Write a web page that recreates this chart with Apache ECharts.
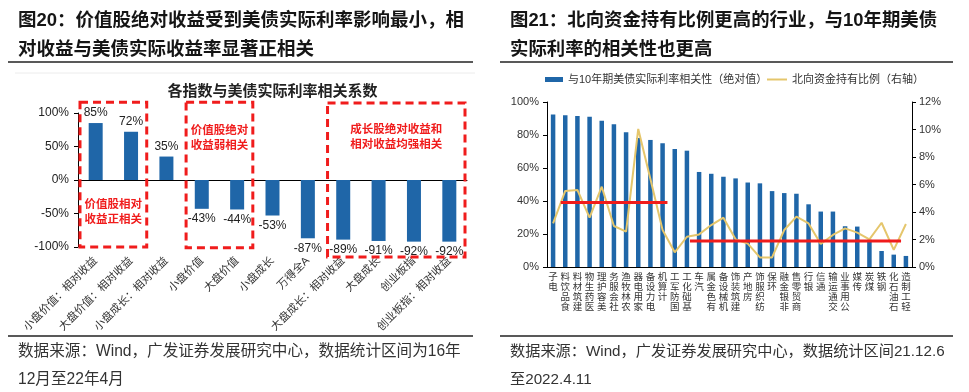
<!DOCTYPE html>
<html><head><meta charset="utf-8">
<script src="https://cdn.jsdelivr.net/npm/echarts@6/dist/echarts.min.js"></script>
<style>html,body{margin:0;padding:0;background:#fff}#c{width:969px;height:392px}</style>
</head><body><div id="c"></div>
<script>
const FONT = '"Liberation Sans", "Noto Sans CJK SC", sans-serif';

// ---- left chart data ----
const leftTitle = '图20：价值股绝对收益受到美债实际利率影响最小，相\n对收益与美债实际收益率显著正相关';
const leftInnerTitle = '各指数与美债实际利率相关系数';
const leftCats = ['小盘价值：相对收益','大盘价值：相对收益','小盘成长：相对收益','小盘价值','大盘价值','小盘成长','万得全A','大盘成长：相对收益','大盘成长','创业板指','创业板指：相对收益'];
const leftValues = [85, 72, 35, -43, -44, -53, -87, -89, -91, -92, -92];
const leftAxisMin = -100, leftAxisMax = 100, leftAxisStep = 50;
const leftSource = '数据来源：Wind，广发证券发展研究中心，数据统计区间为16年\n12月至22年4月';
// annotation boxes (category span, value span, text, text anchor value)
const boxFrom = [0, 3, 7];
const boxTo = [1, 4, 10];
const boxTop = [116, 116, 115];
const boxBottom = [-100, -101, -115];
const boxText = ['价值股相对\n收益正相关', '价值股绝对\n收益弱相关', '成长股绝对收益和\n相对收益均强相关'];
const boxTextValue = [-48.5, 61.5, 63.4];

// ---- right chart data ----
const rightTitle = '图21：北向资金持有比例更高的行业，与10年期美债\n实际利率的相关性也更高';
const rightCats = ['电子','食品饮料','建筑材料','医药生物','美容护理','社会服务','农林牧渔','家用电器','电力设备','计算机','国防军工','基础化工','汽车','有色金属','机械设备','建筑装饰','房地产','纺织服饰','环保','非银金融','商贸零售','银行','通信','交通运输','公用事业','传媒','煤炭','钢铁','石油石化','轻工制造'];
const corrName = '与10年期美债实际利率相关性（绝对值）';
const corrValues = [92.5, 92, 91.5, 91, 88.7, 86.5, 81.6, 78.2, 77, 75, 71.5, 70.5, 57.6, 56.5, 54.7, 53.7, 51.2, 50.7, 46, 44.8, 44.4, 38, 33.6, 33.6, 24.7, 24.5, 16.5, 9.7, 7.5, 6.7];
const northName = '北向资金持有比例（右轴）';
const northValues = [3.18, 5.53, 5.6, 3.59, 5.84, 2.98, 2.57, 10.04, 6.4, 2.69, 1.07, 2.2, 2.37, 3.05, 3.59, 2.01, 1.7, 0.7, 0.7, 2.69, 3.66, 3.17, 1.67, 2.33, 2.81, 2.5, 2.01, 3.22, 1.24, 3.13];
const rightLeftMax = 100, rightLeftStep = 20;
const rightRightMax = 12, rightRightStep = 2;
const rightSource = '数据来源：Wind，广发证券发展研究中心，数据统计区间21.12.6\n至2022.4.11';
// red reference lines (category span, right-axis level)
const refFrom = [0.63, 11.25];
const refTo = [9.4, 28.6];
const refLevel = [4.7, 1.9];

const BLUE = '#1f66a8';
const RED = '#f01c1c';

const chart = echarts.init(document.getElementById('c'));
chart.setOption({
  animation: false,
  backgroundColor: '#fff',
  textStyle: { fontFamily: FONT },
  title: [
    { text: leftTitle, left: 18, top: 6.5, padding: 0,
      textStyle: { fontFamily: FONT, fontSize: 18.5, fontWeight: 'bold', color: '#151515', lineHeight: 29 } },
    { text: rightTitle, left: 510, top: 6.5, padding: 0,
      textStyle: { fontFamily: FONT, fontSize: 18.4, fontWeight: 'bold', color: '#151515', lineHeight: 29 } },
    { text: leftSource, left: 18, top: 338, padding: 0,
      textStyle: { fontFamily: FONT, fontSize: 15.6, fontWeight: 'normal', color: '#333', lineHeight: 28 } },
    { text: rightSource, left: 510, top: 338, padding: 0,
      textStyle: { fontFamily: FONT, fontSize: 15.2, fontWeight: 'normal', color: '#333', lineHeight: 28 } }
  ],
  legend: [
    { data: [corrName], left: 545, top: 74, padding: 0, icon: 'rect', itemWidth: 18, itemHeight: 5,
      textStyle: { fontFamily: FONT, fontSize: 11, color: '#333' } },
    { data: [northName], left: 767, top: 74, padding: 0, icon: 'rect', itemWidth: 20, itemHeight: 2,
      textStyle: { fontFamily: FONT, fontSize: 11, color: '#333' } }
  ],
  grid: [
    { left: 78, top: 113, width: 389, height: 134 },
    { left: 547, top: 102, width: 365, height: 165 }
  ],
  xAxis: [
    { type: 'category', gridIndex: 0, data: leftCats, position: 'bottom',
      axisLine: { show: false, onZero: false }, axisTick: { show: false },
      axisLabel: { rotate: 45, interval: 0, fontSize: 11, color: '#333', margin: 12, fontFamily: FONT } },
    { type: 'category', gridIndex: 0, data: leftCats, position: 'bottom',
      axisLine: { show: true, onZero: true, lineStyle: { color: '#000', width: 1 } },
      axisTick: { show: false }, axisLabel: { show: false } },
    { type: 'category', gridIndex: 1, data: rightCats, position: 'bottom',
      axisLine: { show: true, lineStyle: { color: '#000', width: 1 } }, axisTick: { show: false },
      axisLabel: { interval: 0, fontSize: 9.5, lineHeight: 10, color: '#333', margin: 5, fontFamily: FONT,
        formatter: v => v.split('').reverse().join('\n') } }
  ],
  yAxis: [
    { type: 'value', gridIndex: 0, min: leftAxisMin, max: leftAxisMax, interval: leftAxisStep,
      axisLine: { show: true, lineStyle: { color: '#000' } },
      axisTick: { show: true, length: 4, lineStyle: { color: '#000' } }, splitLine: { show: false },
      axisLabel: { formatter: '{value}%', fontSize: 12, color: '#222', margin: 9, fontFamily: FONT } },
    { type: 'value', gridIndex: 1, min: 0, max: rightLeftMax, interval: rightLeftStep, position: 'left',
      axisLine: { show: true, lineStyle: { color: '#000' } },
      axisTick: { show: true, length: 4, lineStyle: { color: '#000' } }, splitLine: { show: false },
      axisLabel: { formatter: '{value}%', fontSize: 11, color: '#333', margin: 8, fontFamily: FONT } },
    { type: 'value', gridIndex: 1, min: 0, max: rightRightMax, interval: rightRightStep, position: 'right',
      axisLine: { show: true, lineStyle: { color: '#000' } },
      axisTick: { show: true, length: 4, lineStyle: { color: '#000' } }, splitLine: { show: false },
      axisLabel: { formatter: '{value}%', fontSize: 11, color: '#333', margin: 7, fontFamily: FONT } }
  ],
  series: [
    { type: 'bar', xAxisIndex: 0, yAxisIndex: 0, barWidth: 14, itemStyle: { color: BLUE },
      data: leftValues.map(v => ({ value: v, label: { position: v >= 0 ? 'top' : 'bottom' } })),
      label: { show: true, formatter: '{c}%', fontSize: 12, color: '#222', distance: 4, fontFamily: FONT } },
    { type: 'bar', name: corrName, xAxisIndex: 2, yAxisIndex: 1, barWidth: 4.5,
      itemStyle: { color: BLUE }, data: corrValues },
    { type: 'line', name: northName, xAxisIndex: 2, yAxisIndex: 2, data: northValues,
      symbol: 'none', itemStyle: { color: '#e5c66c' }, lineStyle: { color: '#e5c66c', width: 2 } }
  ]
});

// ---- annotations (placed through the chart's own scales) ----
const g = [];
const line = (x1, y1, x2, y2, stroke, w, dash) => ({ type: 'line', z: 50,
  shape: { x1, y1, x2, y2 }, style: { stroke, lineWidth: w, lineDash: dash || null } });
g.push(line(8, 62, 473, 62, '#222', 1.5));
g.push(line(500, 62, 953, 62, '#222', 1.5));
g.push(line(8, 336, 473, 336, '#222', 1.5));
g.push(line(500, 336, 953, 336, '#222', 1.5));
g.push(line(15, 73, 475, 73, '#ececec', 1));

const pl = (i, v) => chart.convertToPixel({ xAxisIndex: 0, yAxisIndex: 0 }, [i, v]);
const bandL = pl(1, 0)[0] - pl(0, 0)[0];
g.push({ type: 'text', z: 50, style: { text: leftInnerTitle, x: (pl(0,0)[0] + pl(leftCats.length - 1, 0)[0]) / 2, y: 92,
  align: 'center', verticalAlign: 'middle', font: 'bold 15px ' + FONT, fill: '#222' } });
for (let k = 0; k < boxFrom.length; k++) {
  const a = pl(boxFrom[k], boxTop[k]), b = pl(boxTo[k], boxBottom[k]);
  const x0 = a[0] - bandL / 2 + 2, x1 = b[0] + bandL / 2 - 2;
  g.push({ type: 'rect', z: 60, shape: { x: x0, y: a[1], width: x1 - x0, height: b[1] - a[1] },
    style: { fill: null, stroke: RED, lineWidth: 3, lineDash: [8, 5] } });
  const t = pl(boxFrom[k], boxTextValue[k]);
  g.push({ type: 'text', z: 60, style: { text: boxText[k], x: (x0 + x1) / 2, y: t[1], align: 'center',
    verticalAlign: 'middle', font: 'bold 11.5px ' + FONT, fill: RED, lineHeight: 15 } });
}

const pr = (i, v) => chart.convertToPixel({ xAxisIndex: 2, yAxisIndex: 2 }, [i, v]);
const c0 = pr(0, 0)[0], bandR = pr(1, 0)[0] - c0;
for (let k = 0; k < refFrom.length; k++) {
  const y = pr(0, refLevel[k])[1];
  g.push(line(c0 + refFrom[k] * bandR, y, c0 + refTo[k] * bandR, y, RED, 3));
}
chart.setOption({ graphic: g });
</script></body></html>
